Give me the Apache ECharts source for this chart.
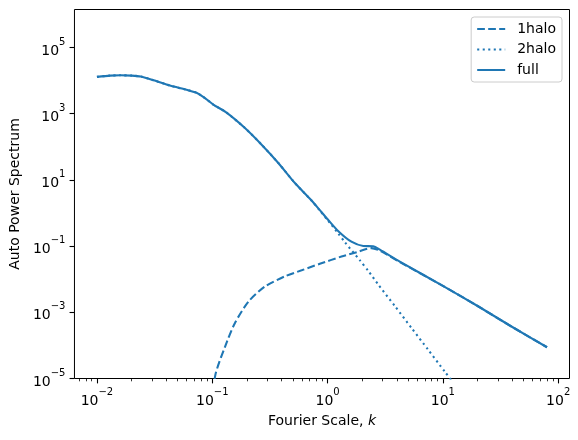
<!DOCTYPE html>
<html>
<head>
<meta charset="utf-8">
<script src="https://cdn.jsdelivr.net/npm/echarts@6/dist/echarts.min.js"></script>
<style>html,body{margin:0;padding:0;background:#fff;}#c{width:578px;height:440px;}</style>
</head>
<body>
<div id="c"></div>
<script>
// ---- data (k, P(k)) ----
const fullK = [0.010, 0.013, 0.016, 0.020, 0.024, 0.031, 0.043, 0.060, 0.073, 0.084, 0.102, 0.133, 0.192, 0.268, 0.374, 0.521, 0.726, 0.857, 1.01, 1.24, 1.61, 2.04, 2.49, 2.84, 4.23, 10, 20, 40, 80];
const fullP = [13000, 14200, 14500, 14200, 13300, 10300, 7100, 5300, 4300, 3200, 1900, 1080, 370, 116, 32.6, 8.05, 2.40, 1.22, 0.625, 0.283, 0.136, 0.101, 0.099, 0.078, 0.034, 0.0063, 0.00155, 0.00036, 0.000088];

const oneHaloK = [0.09, 0.106, 0.129, 0.157, 0.206, 0.286, 0.427, 0.596, 0.857, 1.32, 1.80, 2.40, 2.84, 4.23, 10, 20, 40, 80];
const oneHaloP = [1e-7, 1.2e-5, 9.1e-5, 4.7e-4, 2.1e-3, 6.0e-3, 0.0122, 0.0186, 0.0292, 0.0484, 0.066, 0.087, 0.073, 0.033, 0.0063, 0.00155, 0.00036, 0.000088];

const twoHaloK = [0.010, 0.013, 0.016, 0.020, 0.024, 0.031, 0.043, 0.060, 0.073, 0.084, 0.102, 0.133, 0.192, 0.268, 0.374, 0.521, 0.726, 0.857, 1.01, 1.24, 1.41, 1.91, 2.25, 2.75, 3.83, 5.33, 7.45, 10.4, 14];
const twoHaloP = [13000, 14200, 14500, 14200, 13300, 10300, 7100, 5300, 4300, 3200, 1900, 1080, 370, 116, 32.6, 8.05, 2.38, 1.19, 0.59, 0.24, 0.132, 0.037, 0.018, 0.0069, 0.00155, 3.4e-4, 7.4e-5, 1.6e-5, 4.2e-6];

const seriesNames = ['1halo', '2halo', 'full'];
const xMajorTicks = [0.01, 0.1, 1, 10, 100];
const xMinorTicks = [0.007, 0.008, 0.009,
  0.02, 0.03, 0.04, 0.05, 0.06, 0.07, 0.08, 0.09,
  0.2, 0.3, 0.4, 0.5, 0.6, 0.7, 0.8, 0.9,
  2, 3, 4, 5, 6, 7, 8, 9,
  20, 30, 40, 50, 60, 70, 80, 90];
const yMajorTicks = [1e-5, 1e-3, 1e-1, 1e1, 1e3, 1e5];
const xTitle = 'Fourier Scale, ';
const xTitleItalic = 'k';
const yTitle = 'Auto Power Spectrum';

// ---- helpers ----
const FONT = 'DejaVu Sans';
const BLUE = '#1f77b4';
const LW = 2.08;
function pairs(ks, ps) { return ks.map((k, i) => [k, ps[i]]); }
function supLabel(v) {
  const e = Math.round(Math.log10(v));
  const es = e < 0 ? '\u2212' + (-e) : String(e);
  return '{b|10}{s|' + es + '}';
}
const richSup = {
  b: { fontSize: 14, fontFamily: FONT, color: '#000', lineHeight: 21, verticalAlign: 'bottom' },
  s: { fontSize: 10, fontFamily: FONT, color: '#000', lineHeight: 8, verticalAlign: 'top' }
};

const chart = echarts.init(document.getElementById('c'), null, { renderer: 'canvas' });
chart.setOption({
  animation: false,
  backgroundColor: '#fff',
  grid: { left: 72.5, right: 8.5, top: 9.5, bottom: 61.5, show: true, borderColor: '#000', borderWidth: 1, backgroundColor: 'transparent' },
  legend: {
    data: seriesNames,
    orient: 'vertical',
    right: 16, top: 17,
    padding: [5, 6, 5, 5],
    itemWidth: 28, itemHeight: 14, itemGap: 6.5,
    backgroundColor: 'rgba(255,255,255,0.8)',
    borderColor: '#cccccc', borderWidth: 1, borderRadius: 3,
    itemStyle: { opacity: 0, color: 'transparent', borderWidth: 0 },
    textStyle: { fontFamily: FONT, fontSize: 14, color: '#000', lineHeight: 14, padding: [0, 0, 0, 7] }
  },
  xAxis: [{
    type: 'log', logBase: 10,
    min: Math.pow(10, -2.195), max: Math.pow(10, 2.098),
    position: 'bottom',
    axisLine: { show: false },
    splitLine: { show: false },
    axisTick: { show: true, inside: false, length: 4.9, lineStyle: { color: '#000', width: 1.1 }, customValues: xMajorTicks },
    axisLabel: { show: true, margin: 9, customValues: xMajorTicks, formatter: supLabel, rich: richSup },
    name: '{n|' + xTitle + '}{i|' + xTitleItalic + '}',
    nameLocation: 'middle', nameGap: 36,
    nameTextStyle: { rich: {
      n: { fontFamily: FONT, fontSize: 14, color: '#000' },
      i: { fontFamily: FONT, fontSize: 14, fontStyle: 'italic', color: '#000' }
    } }
  }, {
    type: 'log', logBase: 10,
    min: Math.pow(10, -2.195), max: Math.pow(10, 2.098),
    position: 'bottom', offset: 0,
    axisLine: { show: false },
    splitLine: { show: false },
    axisTick: { show: true, inside: false, length: 2.8, lineStyle: { color: '#000', width: 0.8 }, customValues: xMinorTicks },
    axisLabel: { show: false }
  }],
  yAxis: {
    type: 'log', logBase: 10,
    min: 1e-5, max: Math.pow(10, 6.15),
    axisLine: { show: false },
    splitLine: { show: false },
    axisTick: { show: true, inside: false, length: 4.9, lineStyle: { color: '#000', width: 1.1 }, customValues: yMajorTicks },
    axisLabel: { show: true, margin: 9, customValues: yMajorTicks, formatter: supLabel, rich: richSup },
    name: yTitle, nameLocation: 'middle', nameGap: 46,
    nameTextStyle: { fontFamily: FONT, fontSize: 14, color: '#000' }
  },
  series: [
    { name: seriesNames[0], type: 'line', xAxisIndex: 0, data: pairs(oneHaloK, oneHaloP), symbol: 'none', showSymbol: false, clip: true, smooth: 0.25,
      lineStyle: { color: BLUE, width: LW, type: [7.7, 3.3] }, itemStyle: { color: BLUE } },
    { name: seriesNames[1], type: 'line', xAxisIndex: 0, data: pairs(twoHaloK, twoHaloP), symbol: 'none', showSymbol: false, clip: true, smooth: 0.25,
      lineStyle: { color: BLUE, width: LW, type: [2.08, 3.44] }, itemStyle: { color: BLUE } },
    { name: seriesNames[2], type: 'line', xAxisIndex: 0, data: pairs(fullK, fullP), symbol: 'none', showSymbol: false, clip: true, smooth: 0.25,
      lineStyle: { color: BLUE, width: LW, type: 'solid', join: 'round' }, itemStyle: { color: BLUE } }
  ]
});
</script>
</body>
</html>
